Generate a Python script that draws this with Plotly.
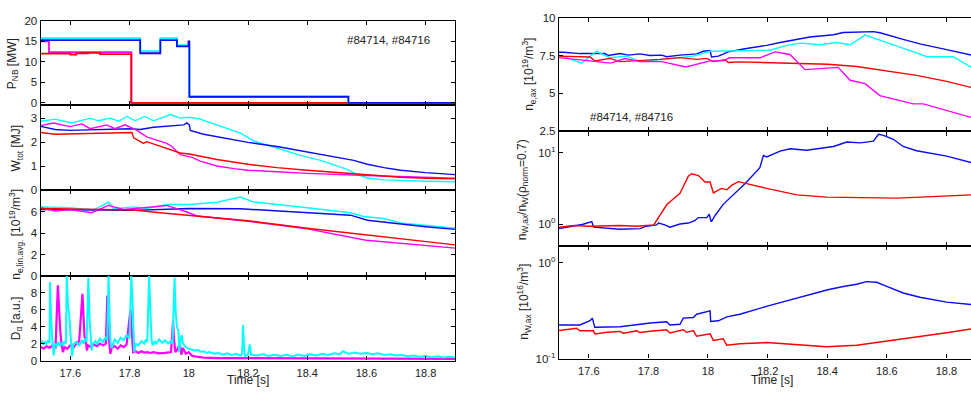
import plotly.graph_objects as go

W_PX, H_PX = 971, 394
FONT = "Liberation Sans, Arial, Helvetica, sans-serif"
CYAN, BLUE, RED, MAG = "#00FFFF", "#0A0AF5", "#FF0000", "#FF00FF"

# ---------------- left column data ----------------
pnb_cyan_t = [17.5, 17.836, 17.904, 17.960, 18.002, 18.539, 18.9]
pnb_cyan = [15.8, 12.6, 15.8, 14.1, 1.5, 0.0, 0.0]
pnb_blue_t = [17.5, 17.836, 17.904, 17.960, 17.999, 18.002, 18.539, 18.9]
pnb_blue = [15.3, 12.1, 15.3, 13.8, 15.0, 1.5, 0.0, 0.0]
pnb_mag_t = [17.5, 17.528, 17.806, 18.9]
pnb_mag = [15.0, 12.4, 0.0, 0.0]
pnb_red_t = [17.5, 17.6, 17.62, 17.66, 17.70, 17.806, 18.9]
pnb_red = [12.0, 11.8, 12.1, 12.2, 11.9, 0.0, 0.0]

w_cyan_t = [17.5, 17.549, 17.605, 17.667, 17.695, 17.735, 17.763, 17.791, 17.819, 17.851, 17.881,
            17.938, 17.971, 18.002, 18.039, 18.095, 18.152, 18.174, 18.219, 18.264, 18.321, 18.377,
            18.445, 18.490, 18.535, 18.569, 18.603, 18.659, 18.716, 18.8, 18.9]
w_cyan = [2.87, 2.96, 2.80, 3.00, 2.89, 3.00, 2.87, 3.07, 2.89, 3.07, 2.89,
          3.15, 3.00, 3.04, 2.96, 2.72, 2.49, 2.38, 2.05, 1.88, 1.64, 1.45,
          1.24, 1.05, 0.87, 0.65, 0.51, 0.43, 0.40, 0.37, 0.35]
w_blue_t = [17.5, 17.549, 17.599, 17.802, 17.836, 17.881, 17.983, 17.994, 18.002, 18.005, 18.050,
            18.095, 18.200, 18.298, 18.377, 18.445, 18.490, 18.535, 18.557, 18.603, 18.659, 18.716,
            18.8, 18.9]
w_blue = [2.66, 2.53, 2.49, 2.56, 2.53, 2.62, 2.72, 2.80, 2.72, 2.49, 2.33,
          2.22, 1.99, 1.82, 1.64, 1.51, 1.41, 1.28, 1.24, 1.08, 0.94, 0.83,
          0.73, 0.65]
w_red_t = [17.5, 17.549, 17.735, 17.808, 17.814, 17.847, 17.858, 17.903, 17.971, 18.002, 18.095,
           18.2, 18.298, 18.4, 18.501, 18.599, 18.716, 18.8, 18.9]
w_red = [2.40, 2.33, 2.38, 2.40, 2.18, 1.95, 2.02, 1.84, 1.55, 1.51, 1.28,
         1.08, 0.94, 0.83, 0.74, 0.65, 0.54, 0.50, 0.47]
w_mag_t = [17.5, 17.543, 17.599, 17.639, 17.667, 17.723, 17.751, 17.785, 17.825, 17.858, 17.926,
           17.943, 17.971, 18.011, 18.039, 18.095, 18.152, 18.2, 18.298, 18.4, 18.599, 18.716,
           18.8, 18.9]
w_mag = [2.69, 2.80, 2.65, 2.76, 2.56, 2.72, 2.56, 2.72, 2.49, 2.22, 1.95,
         1.82, 1.48, 1.37, 1.21, 1.01, 0.90, 0.83, 0.77, 0.70, 0.61, 0.57,
         0.53, 0.50]

ne_cyan_t = [17.5, 17.599, 17.678, 17.729, 17.746, 17.814, 17.858, 17.926, 18.002, 18.095, 18.174,
             18.219, 18.4, 18.546, 18.591, 18.659, 18.716, 18.8, 18.9]
ne_cyan = [6.45, 6.36, 6.15, 6.88, 6.27, 6.45, 6.30, 6.67, 6.67, 6.88, 7.36,
           6.90, 6.36, 5.90, 5.55, 5.36, 4.94, 4.70, 4.45]
ne_blue_t = [17.5, 17.802, 17.903, 18.002, 18.174, 18.4, 18.546, 18.603, 18.716, 18.8, 18.9]
ne_blue = [6.20, 6.12, 6.20, 6.30, 6.27, 5.90, 5.67, 5.20, 4.85, 4.60, 4.35]
ne_red_t = [17.5, 17.735, 17.814, 17.903, 18.002, 18.2, 18.4, 18.599, 18.716, 18.8, 18.9]
ne_red = [6.30, 6.20, 6.15, 5.90, 5.67, 5.15, 4.45, 3.85, 3.48, 3.20, 2.90]
ne_mag_t = [17.5, 17.549, 17.599, 17.672, 17.729, 17.780, 17.847, 17.926, 17.994, 18.028, 18.2,
            18.4, 18.599, 18.716, 18.8, 18.9]
ne_mag = [6.36, 6.06, 6.20, 5.90, 6.58, 6.20, 6.36, 6.58, 5.97, 5.60, 5.10,
          4.40, 3.33, 3.03, 2.80, 2.60]

da_cyan_t = [17.500, 17.505, 17.510, 17.515, 17.520, 17.525, 17.530, 17.5315, 17.535, 17.538, 17.541,
             17.544, 17.548, 17.555, 17.560, 17.565, 17.570, 17.575, 17.580, 17.585, 17.588, 17.592,
             17.596, 17.600, 17.603, 17.606, 17.610, 17.620, 17.630, 17.640, 17.645, 17.650, 17.655,
             17.661, 17.665, 17.668, 17.672, 17.676, 17.685, 17.690, 17.700, 17.710, 17.720, 17.725,
             17.729, 17.733, 17.736, 17.740, 17.745, 17.750, 17.760, 17.770, 17.780, 17.790, 17.800,
             17.806, 17.810, 17.813, 17.816, 17.820, 17.830, 17.840, 17.850, 17.855, 17.860, 17.866,
             17.870, 17.874, 17.878, 17.885, 17.890, 17.900, 17.910, 17.920, 17.930, 17.940, 17.945,
             17.952, 17.956, 17.960, 17.965, 17.968, 17.972, 17.976, 17.980, 17.990, 18.000, 18.010,
             18.020, 18.030, 18.040, 18.050, 18.060, 18.070, 18.085, 18.100, 18.115, 18.130, 18.145,
             18.160, 18.175, 18.180, 18.183, 18.187, 18.190, 18.200, 18.206, 18.210, 18.230, 18.250,
             18.270, 18.290, 18.310, 18.330, 18.350, 18.370, 18.390, 18.410, 18.430, 18.450, 18.470,
             18.490, 18.510, 18.520, 18.540, 18.560, 18.580, 18.600, 18.620, 18.640, 18.660, 18.680,
             18.700, 18.720, 18.740, 18.760, 18.780, 18.800, 18.820, 18.840, 18.860, 18.880, 18.900]
da_cyan = [2.0, 2.3, 1.9, 2.2, 2.0, 2.4, 2.1, 9.3, 5.0, 2.5, 1.6,
           0.6, 2.0, 1.8, 2.2, 1.7, 2.1, 1.8, 2.3, 2.0, 10.0, 6.5,
           5.5, 3.5, 1.5, 0.5, 1.9, 2.2, 1.8, 2.4, 2.0, 2.6, 2.2,
           9.8, 5.0, 2.5, 1.2, 2.0, 2.3, 1.9, 2.6, 2.2, 2.8, 2.4,
           10.0, 5.0, 2.0, 1.5, 2.0, 2.5, 2.1, 2.7, 2.4, 3.0, 2.6,
           10.0, 7.0, 4.0, 1.0, 2.0, 1.8, 2.3, 2.0, 2.5, 2.2, 10.0,
           5.5, 2.5, 1.8, 2.3, 2.0, 2.5, 2.1, 2.4, 2.0, 2.3, 2.0,
           9.8, 5.5, 4.0, 3.5, 1.0, 2.5, 3.0, 2.0, 1.6, 1.4, 1.3,
           1.2, 1.25, 1.05, 1.1, 0.9, 1.0, 0.8, 0.9, 0.7, 0.85, 0.65,
           0.8, 0.6, 0.75, 4.2, 1.5, 0.5, 0.7, 1.9, 0.7, 0.6, 0.75,
           0.55, 0.7, 0.55, 0.7, 0.5, 0.7, 0.55, 0.75, 0.6, 0.8, 0.65,
           0.85, 0.75, 1.1, 0.8, 0.95, 0.8, 0.9, 0.75, 0.85, 0.65, 0.75,
           0.6, 0.65, 0.5, 0.6, 0.45, 0.55, 0.4, 0.5, 0.35, 0.45, 0.35]
da_mag_t = [17.500, 17.510, 17.520, 17.530, 17.540, 17.550, 17.558, 17.562, 17.566, 17.570, 17.575,
            17.580, 17.590, 17.600, 17.610, 17.620, 17.630, 17.641, 17.645, 17.648, 17.652, 17.656,
            17.660, 17.670, 17.680, 17.690, 17.700, 17.710, 17.720, 17.725, 17.729, 17.732, 17.735,
            17.740, 17.750, 17.760, 17.770, 17.780, 17.790, 17.803, 17.808, 17.812, 17.820, 17.830,
            17.840, 17.850, 17.860, 17.870, 17.880, 17.900, 17.920, 17.940, 17.947, 17.950, 17.955,
            17.960, 17.970, 17.975, 17.980, 17.990, 18.000, 18.010, 18.020, 18.050, 18.100, 18.200,
            18.300, 18.400, 18.500, 18.600, 18.700, 18.800, 18.900]
da_mag = [1.6, 1.4, 1.7, 1.5, 1.8, 1.6, 8.9, 5.0, 3.5, 2.0, 1.0,
          1.6, 1.4, 1.8, 1.5, 2.0, 2.3, 7.9, 4.5, 2.8, 2.5, 1.2,
          1.8, 1.6, 1.9, 1.7, 2.0, 1.8, 2.0, 7.7, 3.0, 1.5, 0.8,
          1.5, 1.7, 1.4, 1.8, 1.6, 1.9, 6.0, 2.5, 1.0, 1.1, 0.9,
          1.1, 0.95, 1.0, 0.9, 1.0, 0.85, 0.9, 1.0, 4.7, 2.5, 1.0,
          1.2, 2.0, 0.7, 1.5, 0.8, 1.0, 0.6, 0.5, 0.35, 0.3, 0.28,
          0.25, 0.25, 0.22, 0.22, 0.2, 0.2, 0.2]

# ---------------- right column data ----------------
nax_blue_t = [17.5, 17.515, 17.570, 17.654, 17.666, 17.705, 17.733, 17.772, 17.805, 17.845, 17.861,
              17.906, 17.962, 17.984, 18.007, 18.012, 18.035, 18.068, 18.119, 18.197, 18.242, 18.286,
              18.342, 18.421, 18.454, 18.555, 18.577, 18.655, 18.711, 18.801, 18.883]
nax_blue = [7.72, 7.72, 7.63, 7.63, 7.50, 7.63, 7.53, 7.61, 7.50, 7.53, 7.42,
            7.53, 7.61, 7.78, 7.83, 7.40, 7.46, 7.74, 7.93, 8.17, 8.36, 8.53,
            8.72, 8.87, 9.02, 9.08, 9.00, 8.57, 8.27, 7.89, 7.53]
nax_cyan_t = [17.5, 17.531, 17.576, 17.626, 17.671, 17.727, 17.772, 17.817, 17.906, 17.951, 18.007,
              18.102, 18.208, 18.264, 18.309, 18.376, 18.432, 18.477, 18.527, 18.700, 18.734, 18.823,
              18.883]
nax_cyan = [7.53, 7.30, 7.00, 7.78, 7.36, 7.46, 7.10, 7.19, 7.36, 7.46, 7.78,
            7.83, 7.85, 8.17, 8.32, 8.21, 8.36, 8.21, 8.85, 7.68, 7.42, 7.42,
            6.72]
nax_red_t = [17.5, 17.604, 17.621, 17.671, 17.705, 17.802, 17.839, 17.906, 17.962, 17.996, 18.018,
             18.057, 18.068, 18.107, 18.298, 18.402, 18.499, 18.602, 18.700, 18.801, 18.883]
nax_red = [7.46, 7.40, 7.14, 7.31, 7.10, 7.19, 7.25, 7.36, 7.25, 7.31, 7.10,
           7.23, 7.04, 7.08, 6.97, 6.93, 6.78, 6.50, 6.19, 5.80, 5.40]
nax_mag_t = [17.5, 17.576, 17.673, 17.722, 17.772, 17.845, 17.926, 18.007, 18.051, 18.073, 18.174,
             18.225, 18.275, 18.326, 18.437, 18.477, 18.527, 18.577, 18.622, 18.689, 18.723, 18.823,
             18.883]
nax_mag = [7.36, 7.19, 7.00, 7.30, 7.10, 7.10, 6.75, 7.15, 7.15, 7.35, 7.35,
           7.74, 7.57, 6.57, 6.72, 5.87, 5.65, 4.86, 4.65, 4.31, 4.31, 3.78,
           3.42]

peak_blue_t = [17.5, 17.522, 17.559, 17.581, 17.610, 17.616, 17.660, 17.705, 17.772, 17.794, 17.828,
               17.834, 17.855, 17.872, 17.906, 17.934, 17.956, 17.967, 17.996, 18.004, 18.011, 18.020,
               18.025, 18.051, 18.085, 18.124, 18.174, 18.186, 18.197, 18.219, 18.242, 18.276, 18.331,
               18.421, 18.466, 18.511, 18.555, 18.572, 18.589, 18.622, 18.655, 18.700, 18.801, 18.883]
peak_blue = [0.87, 0.91, 0.96, 1.00, 1.09, 0.91, 0.87, 0.85, 0.87, 0.94, 0.98,
             1.04, 0.98, 0.91, 1.01, 1.04, 1.12, 1.24, 1.24, 1.38, 1.08, 1.24,
             1.35, 1.90, 2.60, 3.70, 6.20, 9.20, 8.75, 9.70, 10.6, 11.4, 10.9,
             12.3, 14.2, 13.8, 14.6, 18.2, 17.6, 15.5, 12.3, 10.7, 9.0, 7.3]
peak_red_t = [17.5, 17.550, 17.604, 17.705, 17.761, 17.806, 17.818, 17.862, 17.906, 17.934, 17.945,
              17.968, 17.990, 18.007, 18.018, 18.045, 18.063, 18.080, 18.102, 18.197, 18.298, 18.398,
              18.499, 18.633, 18.711, 18.883]
peak_red = [0.91, 0.96, 0.94, 0.96, 0.94, 0.98, 0.98, 1.89, 2.72, 4.70, 5.10,
            4.80, 3.91, 3.91, 2.75, 3.18, 3.05, 3.53, 3.95, 3.18, 2.58, 2.40,
            2.35, 2.32, 2.40, 2.58]

nw_blue_t = [17.5, 17.570, 17.604, 17.612, 17.620, 17.705, 17.806, 17.861, 17.872, 17.906, 17.917,
             17.951, 17.962, 18.007, 18.009, 18.035, 18.063, 18.107, 18.208, 18.309, 18.402, 18.454,
             18.499, 18.532, 18.566, 18.600, 18.655, 18.711, 18.801, 18.883]
nw_blue = [0.224, 0.224, 0.248, 0.264, 0.212, 0.215, 0.235, 0.242, 0.224, 0.228, 0.264,
           0.268, 0.290, 0.314, 0.244, 0.248, 0.272, 0.290, 0.359, 0.436, 0.522, 0.565,
           0.596, 0.635, 0.625, 0.565, 0.483, 0.436, 0.388, 0.367]
nw_red_t = [17.5, 17.559, 17.570, 17.615, 17.621, 17.660, 17.705, 17.716, 17.761, 17.772, 17.806,
            17.861, 17.872, 17.917, 17.928, 17.951, 17.962, 18.007, 18.018, 18.051, 18.063, 18.107,
            18.197, 18.298, 18.398, 18.499, 18.600, 18.700, 18.801, 18.883]
nw_red = [0.196, 0.207, 0.195, 0.195, 0.181, 0.188, 0.192, 0.184, 0.195, 0.187, 0.193,
          0.200, 0.185, 0.200, 0.188, 0.196, 0.171, 0.181, 0.155, 0.161, 0.138, 0.143,
          0.147, 0.141, 0.133, 0.138, 0.152, 0.168, 0.186, 0.204]

time_ticks = [17.6, 17.8, 18.0, 18.2, 18.4, 18.6, 18.8]
time_labels = ["17.6", "17.8", "18", "18.2", "18.4", "18.6", "18.8"]


def px_x(p):
    return p / W_PX


def px_y(p):
    return 1 - p / H_PX


fig = go.Figure()

LW = 1.4


def add(tr_x, tr_y, color, axis, shape="linear", width=LW):
    fig.add_trace(go.Scatter(x=tr_x, y=tr_y, mode="lines", line=dict(color=color, width=width, shape=shape),
                             xaxis="x" + ("" if axis == 1 else str(axis)),
                             yaxis="y" + ("" if axis == 1 else str(axis)),
                             showlegend=False, hoverinfo="skip"))


# panel 1: P_NB
add(pnb_mag_t, pnb_mag, MAG, 1, "hv", 1.8)
add(pnb_red_t, pnb_red, RED, 1, "hv", 1.8)
add(pnb_cyan_t, pnb_cyan, CYAN, 1, "hv", 1.8)
add(pnb_blue_t, pnb_blue, BLUE, 1, "hv", 1.8)
# panel 2: W_tot
add(w_cyan_t, w_cyan, CYAN, 2)
add(w_blue_t, w_blue, BLUE, 2)
add(w_mag_t, w_mag, MAG, 2)
add(w_red_t, w_red, RED, 2)
# panel 3: ne
add(ne_cyan_t, ne_cyan, CYAN, 3)
add(ne_blue_t, ne_blue, BLUE, 3)
add(ne_mag_t, ne_mag, MAG, 3)
add(ne_red_t, ne_red, RED, 3)
# panel 4: D_alpha
add(da_mag_t, da_mag, MAG, 4, width=2.2)
add(da_cyan_t, da_cyan, CYAN, 4, width=2.0)
# right 1
add(nax_blue_t, nax_blue, BLUE, 5)
add(nax_cyan_t, nax_cyan, CYAN, 5)
add(nax_red_t, nax_red, RED, 5)
add(nax_mag_t, nax_mag, MAG, 5)
# right 2
add(peak_blue_t, peak_blue, BLUE, 6)
add(peak_red_t, peak_red, RED, 6)
# right 3
add(nw_blue_t, nw_blue, BLUE, 7)
add(nw_red_t, nw_red, RED, 7)

tickfont = dict(family=FONT, size=11.5, color="#222")
xtickfont = dict(family=FONT, size=11, color="#222")
common_x = dict(tickvals=time_ticks, ticktext=time_labels, ticks="inside", ticklen=4, tickwidth=1.2,
                tickcolor="black", showline=True, linecolor="black", linewidth=1.4, mirror="ticks",
                showgrid=False, zeroline=False, tickfont=xtickfont, ticklabelstandoff=2)
common_y = dict(ticks="inside", ticklen=4, tickwidth=1.2, tickcolor="black", showline=True,
                linecolor="black", linewidth=1.4, showgrid=False, zeroline=False, tickfont=tickfont)

left_dom = [px_x(40.7), px_x(455.3)]
right_dom = [px_x(559), 1.0]
left_rows = [(15.3, 102.3), (102.3, 190.0), (190.0, 278.5), (278.5, 365.7)]
right_rows = [(12.0, 129.3), (129.3, 247.3), (247.3, 363.7)]

left_y_cfg = [
    dict(range=[-0.55, 20], tickvals=[0, 5, 10, 15, 20]),
    dict(range=[0, 3.54], tickvals=[0, 1, 2, 3]),
    dict(range=[0, 8], tickvals=[0, 2, 4, 6]),
    dict(range=[0, 10], tickvals=[0, 2, 4, 6, 8]),
]
right_y_cfg = [
    dict(range=[2.5, 10], tickvals=[2.5, 5, 7.5, 10], ticktext=["2.5", "5", "7.5", "10"]),
    dict(type="log", range=[-0.30103, 1.30103], tickvals=[1, 10],
         ticktext=["10<sup>0</sup>", "10<sup>1</sup>"]),
    dict(type="log", range=[-1, 0.1761], tickvals=[0.1, 1],
         ticktext=["10<sup>-1</sup>", "10<sup>0</sup>"]),
]

layout = dict(width=W_PX, height=H_PX, margin=dict(l=0, r=0, t=0, b=0),
              paper_bgcolor="white", plot_bgcolor="white", showlegend=False)

for i in range(7):
    n = i + 1
    xk = "xaxis" if n == 1 else f"xaxis{n}"
    yk = "yaxis" if n == 1 else f"yaxis{n}"
    yref = "y" if n == 1 else f"y{n}"
    xref = "x" if n == 1 else f"x{n}"
    if i < 4:
        top, bot = left_rows[i]
        xa = dict(common_x, domain=left_dom, range=[17.5, 18.9], anchor=yref,
                  showticklabels=(i == 3))
        ya = dict(common_y, domain=[px_y(bot), px_y(top)], anchor=xref, mirror="ticks", **left_y_cfg[i])
    else:
        top, bot = right_rows[i - 4]
        xa = dict(common_x, domain=right_dom, range=[17.5, 18.8826], anchor=yref,
                  showticklabels=(i == 6))
        ya = dict(common_y, domain=[px_y(bot), px_y(top)], anchor=xref, mirror=False, **right_y_cfg[i - 4])
    layout[xk] = xa
    layout[yk] = ya

fig.update_layout(**layout)

tf = dict(family=FONT, size=12, color="#222")
ann = []


def ylab(text, x, y):
    ann.append(dict(text=text, x=px_x(x), y=px_y(y), xref="paper", yref="paper", showarrow=False,
                    textangle=-90, xanchor="center", yanchor="middle", font=tf))


ylab("P<sub>NB</sub> [MW]", 13, 60)
ylab("W<sub>tot</sub> [MJ]", 17, 147)
ylab("n<sub>e,lin.avg.</sub> [10<sup>19</sup>/m<sup>3</sup>]", 16, 236)
ylab("D<sub>α</sub> [a.u.]", 17, 322)
ylab("n<sub>e,ax</sub> [10<sup>19</sup>/m<sup>3</sup>]", 529, 71)
ylab("n<sub>W,ax</sub>/n<sub>W</sub>(ρ<sub>norm</sub>=0.7)", 523, 190)
ylab("n<sub>W,ax</sub> [10<sup>16</sup>/m<sup>3</sup>]", 524, 305)

for x in [248, 772]:
    ann.append(dict(text="Time [s]", x=px_x(x), y=px_y(393.5), xref="paper", yref="paper", showarrow=False,
                    xanchor="center", yanchor="bottom", font=tf, borderpad=0))

ann.append(dict(text="#84714, #84716", x=px_x(345), y=px_y(35), xref="paper", yref="paper",
                showarrow=False, xanchor="left", yanchor="middle", font=dict(family=FONT, size=11.5, color="#222")))
ann.append(dict(text="#84714, #84716", x=px_x(588), y=px_y(114), xref="paper", yref="paper",
                showarrow=False, xanchor="left", yanchor="middle", font=dict(family=FONT, size=11.5, color="#222")))

fig.update_layout(annotations=ann)
fig.write_html("out.html")
